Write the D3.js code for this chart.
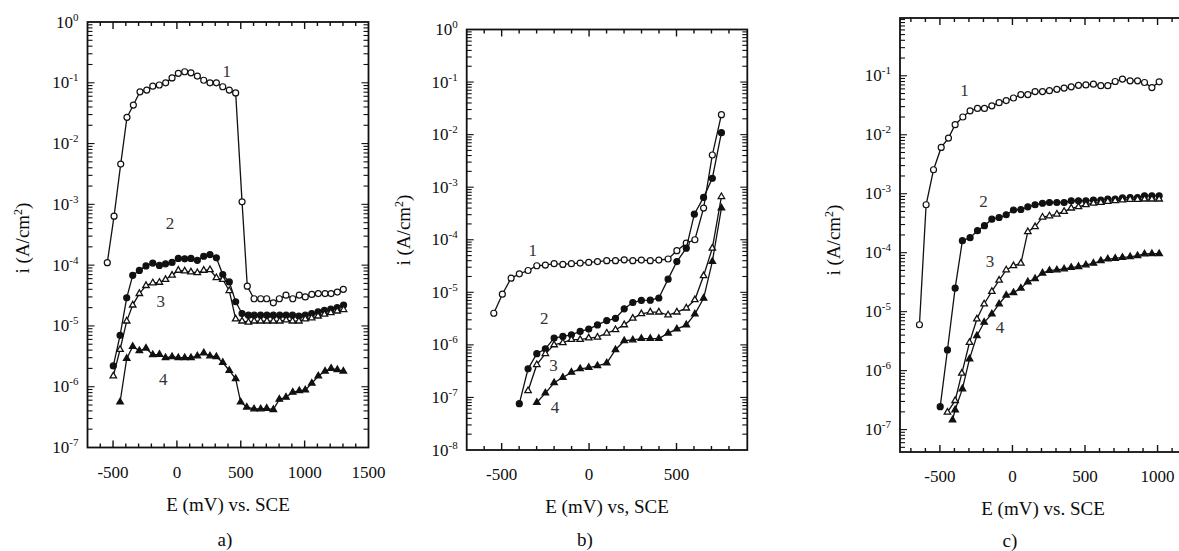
<!DOCTYPE html>
<html>
<head>
<meta charset="utf-8">
<script src="https://cdn.jsdelivr.net/npm/d3@7"></script>
<style>
  body { margin: 0; background: #fff; }
  svg text { font-family: "Liberation Serif", "Times New Roman", serif; fill: #0d0d0d; }
</style>
</head>
<body>
<div id="chart"></div>
<script>
// ---- data (E in mV vs SCE, i in A/cm2) ----

// panel a)
var aE1 = [-545,-492,-440,-391,-341,-289,-236,-189,-138,-88,-38,11,61,110,160,210,259,309,359,410,460,510,551,604,656,703,755,802,854,907,958,1005,1056,1107,1160,1207,1256,1303];
var aI1 = [1.1e-4,6.4e-4,4.6e-3,2.7e-2,4.3e-2,7.1e-2,7.6e-2,8.8e-2,9.2e-2,1.0e-1,1.2e-1,1.43e-1,1.52e-1,1.46e-1,1.29e-1,1.1e-1,1.0e-1,1.0e-1,8.6e-2,7.6e-2,6.8e-2,1.1e-3,4.5e-5,2.8e-5,2.8e-5,2.8e-5,2.4e-5,2.8e-5,3.2e-5,2.8e-5,3.2e-5,3.0e-5,3.3e-5,3.4e-5,3.4e-5,3.4e-5,3.6e-5,4.0e-5];
var aE23 = [-498,-445,-393,-346,-294,-242,-189,-137,-89,-38,11,61,110,160,210,259,309,359,410,460,510,560,605,655,705,755,805,855,905,955,1005,1055,1105,1155,1205,1255,1305];
var aI2 = [2.2e-6,7.0e-6,2.9e-5,6.8e-5,8.2e-5,9.7e-5,1.08e-4,9.9e-5,1.05e-4,1.11e-4,1.29e-4,1.27e-4,1.29e-4,1.2e-4,1.4e-4,1.49e-4,1.32e-4,7.0e-5,5.3e-5,2.5e-5,1.6e-5,1.5e-5,1.5e-5,1.5e-5,1.5e-5,1.5e-5,1.5e-5,1.5e-5,1.5e-5,1.45e-5,1.5e-5,1.6e-5,1.7e-5,1.8e-5,1.9e-5,2.0e-5,2.2e-5];
var aI3 = [1.5e-6,4.1e-6,1.2e-5,2.2e-5,3.4e-5,4.6e-5,5.1e-5,5.2e-5,5.8e-5,6.8e-5,8.2e-5,8.0e-5,7.7e-5,7.5e-5,8.2e-5,8.4e-5,6.2e-5,5.8e-5,3.8e-5,1.3e-5,1.2e-5,1.15e-5,1.2e-5,1.2e-5,1.2e-5,1.2e-5,1.2e-5,1.25e-5,1.2e-5,1.2e-5,1.3e-5,1.35e-5,1.45e-5,1.55e-5,1.65e-5,1.75e-5,1.85e-5];
var aE4 = [-445,-393,-346,-294,-242,-189,-137,-89,-38,11,61,110,160,210,259,309,359,410,460,499,547,604,656,703,755,802,854,907,958,1005,1056,1107,1160,1207,1256,1303];
var aI4 = [5.6e-7,2.9e-6,4.6e-6,3.9e-6,4.3e-6,3.35e-6,3.4e-6,3.0e-6,3.1e-6,3.0e-6,3.0e-6,3.0e-6,3.2e-6,3.6e-6,3.2e-6,3.1e-6,2.5e-6,1.85e-6,1.35e-6,5.6e-7,4.6e-7,4.3e-7,4.3e-7,4.4e-7,4.2e-7,6.2e-7,6.7e-7,8.1e-7,8.6e-7,8.8e-7,1.14e-6,1.5e-6,1.8e-6,2.0e-6,1.9e-6,1.8e-6];

// panel b)
var bE1 = [-545,-496,-446,-399,-349,-299,-250,-200,-150,-101,-51,-2,48,101,151,201,250,299,350,399,452,502,556,605,655,705,757];
var bI1 = [4.0e-6,9.2e-6,1.86e-5,2.25e-5,2.6e-5,3.2e-5,3.3e-5,3.5e-5,3.4e-5,3.5e-5,3.6e-5,3.7e-5,3.85e-5,4.0e-5,4.0e-5,4.15e-5,4.0e-5,4.1e-5,4.0e-5,4.1e-5,4.3e-5,6.2e-5,8.6e-5,1.0e-4,4.0e-4,4.1e-3,2.4e-2];
var bE2 = [-399,-349,-299,-250,-200,-150,-101,-51,-2,48,101,151,201,250,299,350,399,452,502,556,602,655,705,757];
var bI2 = [7.6e-8,3.5e-7,6.8e-7,8.4e-7,1.35e-6,1.45e-6,1.55e-6,1.8e-6,2.0e-6,2.4e-6,2.9e-6,3.2e-6,4.85e-6,6.4e-6,7.0e-6,7.1e-6,7.8e-6,1.78e-5,3.85e-5,6.9e-5,3.07e-4,6.4e-4,1.48e-3,1.09e-2];
var bE3 = [-349,-299,-250,-200,-150,-101,-51,-2,48,101,151,201,250,299,350,399,452,502,556,605,655,705,757];
var bI3 = [1.34e-7,4.2e-7,6.8e-7,1.0e-6,1.1e-6,1.26e-6,1.26e-6,1.35e-6,1.4e-6,1.67e-6,1.94e-6,2.4e-6,3.2e-6,3.9e-6,4.2e-6,4.2e-6,3.7e-6,4.2e-6,5.0e-6,7.2e-6,2.06e-5,6.9e-5,6.6e-4];
var bE4 = [-299,-250,-200,-150,-101,-51,-2,48,101,151,201,250,299,350,399,452,502,556,605,655,705,757];
var bI4 = [8.0e-8,1.21e-7,1.9e-7,2.4e-7,3.0e-7,3.5e-7,3.7e-7,4.0e-7,4.5e-7,8.1e-7,1.2e-6,1.24e-6,1.32e-6,1.32e-6,1.32e-6,1.67e-6,2.0e-6,2.4e-6,3.85e-6,7.7e-6,3.85e-5,4.0e-4];

// panel c)
var cE1 = [-641,-595,-544,-491,-441,-395,-342,-292,-241,-193,-142,-92,-43,7,58,106,156,207,255,306,356,405,455,506,558,609,657,708,758,811,862,910,961,1011];
var cI1 = [6.0e-6,6.5e-4,2.55e-3,6.1e-3,8.8e-3,1.48e-2,2.0e-2,2.55e-2,2.8e-2,2.8e-2,3.1e-2,3.5e-2,3.8e-2,4.2e-2,4.8e-2,4.8e-2,5.4e-2,5.4e-2,5.6e-2,5.9e-2,6.2e-2,6.5e-2,6.9e-2,7.0e-2,7.2e-2,6.8e-2,6.8e-2,8.0e-2,8.8e-2,8.2e-2,8.2e-2,7.7e-2,6.3e-2,7.9e-2];
var cE2 = [-498,-448,-395,-345,-292,-241,-193,-142,-92,-43,7,58,106,156,207,255,306,356,405,455,506,558,609,657,708,758,811,862,910,961,1011];
var cI2 = [2.45e-7,2.24e-6,2.5e-5,1.6e-4,1.8e-4,2.36e-4,2.87e-4,3.7e-4,3.95e-4,4.4e-4,5.3e-4,5.4e-4,6.0e-4,6.5e-4,6.9e-4,7.1e-4,7.1e-4,7.1e-4,7.6e-4,7.6e-4,7.6e-4,7.8e-4,7.8e-4,8.1e-4,8.1e-4,8.5e-4,8.6e-4,8.6e-4,9.2e-4,9.2e-4,9.2e-4];
var cE3 = [-448,-395,-349,-296,-245,-195,-142,-92,-43,7,58,106,156,207,255,306,356,405,455,506,558,609,657,708,758,811,862,910,961,1011];
var cI3 = [1.97e-7,3.1e-7,9.0e-7,3.0e-6,7.5e-6,1.35e-5,2.2e-5,3.4e-5,5.1e-5,6.0e-5,6.6e-5,2.27e-4,2.75e-4,4.0e-4,4.2e-4,4.5e-4,5.0e-4,5.7e-4,6.0e-4,6.5e-4,6.9e-4,7.1e-4,7.4e-4,7.6e-4,7.8e-4,8.0e-4,8.0e-4,8.1e-4,8.1e-4,8.1e-4];
var cE4 = [-413,-395,-345,-296,-245,-195,-142,-92,-43,7,58,106,156,207,255,306,356,405,455,506,558,609,657,708,758,811,862,910,961,1011];
var cI4 = [1.46e-7,2.16e-7,4.9e-7,1.58e-6,3.9e-6,6.6e-6,9.1e-6,1.35e-5,1.9e-5,2.1e-5,2.5e-5,3.2e-5,3.6e-5,4.5e-5,5.0e-5,5.1e-5,5.3e-5,5.6e-5,5.8e-5,6.2e-5,6.6e-5,7.3e-5,7.8e-5,8.0e-5,8.3e-5,8.5e-5,8.9e-5,9.5e-5,9.6e-5,9.6e-5];

// tick labels
var aTickX = [-500, 0, 500, 1000, 1500];
var bTickX = [-500, 0, 500];
var cTickX = [-500, 0, 500, 1000];
var aTickExp = [0, -1, -2, -3, -4, -5, -6, -7];
var bTickExp = [0, -1, -2, -3, -4, -5, -6, -7, -8];
var cTickExp = [-1, -2, -3, -4, -5, -6, -7];

// curve number labels, placed in data coordinates [E, i]
var curveNames = ["1", "2", "3", "4"];
var aCurveAt = [[390, 1.55e-1], [-54, 5.0e-4], [-127, 2.6e-5], [-106, 1.35e-6]];
var bCurveAt = [[-322, 6.4e-5], [-256, 3.2e-6], [-204, 4.1e-7], [-195, 6.7e-8]];
var cCurveAt = [[-331, 5.7e-2], [-200, 7.6e-4], [-154, 7.3e-5], [-85, 5.4e-6]];

// ---- layout ----
var svgWidth = 1179;
var svgHeight = 551;

var svg = d3.select("#chart")
  .append("svg")
  .attr("width", svgWidth)
  .attr("height", svgHeight);

// marker style per curve number
var markers = [
  { shape: "circle", fill: "#fff" },
  { shape: "circle", fill: "#111" },
  { shape: "triangle", fill: "#fff" },
  { shape: "triangle", fill: "#111" }
];

var panels = [
  {
    name: "a)", left: 87.5, top: 22, right: 368.5, bottom: 447.5,
    xDomain: [-700, 1500], yDomain: [1e-7, 1],
    xTicks: aTickX, yExps: aTickExp,
    xTitle: "E (mV) vs. SCE", yTitleY: 238, yTitleX: 22, nameX: 225, nameY: 546,
    series: [[aE1, aI1], [aE23, aI2], [aE23, aI3], [aE4, aI4]],
    curveAt: aCurveAt
  },
  {
    name: "b)", left: 466.7, top: 29.5, right: 747.3, bottom: 450,
    xDomain: [-700, 905], yDomain: [1e-8, 1],
    xTicks: bTickX, yExps: bTickExp,
    xTitle: "E (mV) vs, SCE", yTitleY: 230, yTitleX: 403, nameX: 585, nameY: 546,
    series: [[bE1, bI1], [bE2, bI2], [bE3, bI3], [bE4, bI4]],
    curveAt: bCurveAt
  },
  {
    name: "c)", left: 900, top: 18, right: 1186, bottom: 452,
    xDomain: [-775, 1196], yDomain: [Math.pow(10, -7.38), Math.pow(10, -0.02)],
    xTicks: cTickX, yExps: cTickExp,
    xTitle: "E (mV) vs. SCE", yTitleY: 240, yTitleX: 833, nameX: 1010, nameY: 547,
    series: [[cE1, cI1], [cE2, cI2], [cE3, cI3], [cE4, cI4]],
    curveAt: cCurveAt
  }
];

panels.forEach(function(p) {
  var g = svg.append("g");

  var x = d3.scaleLinear().domain(p.xDomain).range([p.left, p.right]);
  var y = d3.scaleLog().domain(p.yDomain).range([p.bottom, p.top]);

  // x ticks every 100 mV, longer every 500 mV, inward on top and bottom
  var xt = d3.range(Math.ceil(p.xDomain[0] / 100) * 100, p.xDomain[1], 100)
    .filter(function(v) { return x(v) > p.left + 2 && x(v) < p.right - 2; });
  xt.forEach(function(v) {
    var len = (v % 500 === 0) ? 7 : 4;
    g.append("line").attr("x1", x(v)).attr("x2", x(v))
      .attr("y1", p.bottom).attr("y2", p.bottom - len)
      .attr("stroke", "#111").attr("stroke-width", 1.4);
    g.append("line").attr("x1", x(v)).attr("x2", x(v))
      .attr("y1", p.top).attr("y2", p.top + len)
      .attr("stroke", "#111").attr("stroke-width", 1.4);
  });

  // y log ticks, inward on left and right
  var lo = Math.floor(Math.log10(p.yDomain[0]));
  var hi = Math.ceil(Math.log10(p.yDomain[1]));
  for (var d = lo; d <= hi; d++) {
    for (var k = 1; k <= 9; k++) {
      var v = k * Math.pow(10, d);
      if (v < p.yDomain[0] * 1.0001 || v > p.yDomain[1] * 0.9999) continue;
      var len = (k === 1) ? 7 : 5;
      g.append("line").attr("x1", p.left).attr("x2", p.left + len)
        .attr("y1", y(v)).attr("y2", y(v))
        .attr("stroke", "#111").attr("stroke-width", 1.1);
      g.append("line").attr("x1", p.right).attr("x2", p.right - len)
        .attr("y1", y(v)).attr("y2", y(v))
        .attr("stroke", "#111").attr("stroke-width", 1.1);
    }
  }

  // frame
  g.append("rect")
    .attr("x", p.left).attr("y", p.top)
    .attr("width", p.right - p.left).attr("height", p.bottom - p.top)
    .attr("fill", "none").attr("stroke", "#111").attr("stroke-width", 1.8);

  // x tick labels
  p.xTicks.forEach(function(v) {
    g.append("text")
      .attr("x", x(v)).attr("y", p.bottom + 30)
      .attr("text-anchor", "middle")
      .style("font-size", "17px")
      .text(v);
  });

  // y tick labels 10^n
  p.yExps.forEach(function(e) {
    var t = g.append("text")
      .attr("x", p.left - 9).attr("y", y(Math.pow(10, e)) + 5.5)
      .attr("text-anchor", "end")
      .style("font-size", "17px");
    t.append("tspan").text("10");
    t.append("tspan").attr("dy", -7).style("font-size", "11px").text(e);
  });

  // axis titles
  g.append("text")
    .attr("x", (p.left + p.right) / 2).attr("y", p.bottom + 63)
    .attr("text-anchor", "middle")
    .style("font-size", "19px")
    .text(p.xTitle);

  var yt = g.append("text")
    .attr("transform", "translate(" + p.yTitleX + "," + p.yTitleY + ") rotate(-90)")
    .attr("text-anchor", "middle")
    .attr("dy", "0.35em")
    .style("font-size", "19px");
  yt.append("tspan").text("i (A/cm");
  yt.append("tspan").attr("dy", -7).style("font-size", "12px").text("2");
  yt.append("tspan").attr("dy", 7).text(")");

  // panel name
  g.append("text")
    .attr("x", p.nameX).attr("y", p.nameY)
    .attr("text-anchor", "middle")
    .style("font-size", "19px")
    .text(p.name);

  // curves
  var line = d3.line()
    .x(function(d) { return x(d[0]); })
    .y(function(d) { return y(d[1]); });

  p.series.forEach(function(s, si) {
    var pts = s[0].map(function(e, i) { return [e, s[1][i]]; });
    g.append("path")
      .datum(pts)
      .attr("d", line)
      .attr("fill", "none")
      .attr("stroke", "#111")
      .attr("stroke-width", 1.3);

    var m = markers[si];
    if (m.shape === "circle") {
      g.selectAll(null).data(pts).enter().append("circle")
        .attr("cx", function(d) { return x(d[0]); })
        .attr("cy", function(d) { return y(d[1]); })
        .attr("r", 3)
        .attr("fill", m.fill)
        .attr("stroke", "#111")
        .attr("stroke-width", 1.2);
    } else {
      g.selectAll(null).data(pts).enter().append("path")
        .attr("d", d3.symbol().type(d3.symbolTriangle).size(18))
        .attr("transform", function(d) { return "translate(" + x(d[0]) + "," + y(d[1]) + ")"; })
        .attr("fill", m.fill)
        .attr("stroke", "#111")
        .attr("stroke-width", 1.3);
    }
  });

  // curve numbers
  p.curveAt.forEach(function(c, ci) {
    g.append("text")
      .attr("x", x(c[0])).attr("y", y(c[1]))
      .attr("dy", "0.35em")
      .attr("text-anchor", "middle")
      .style("font-size", "17px")
      .style("fill", "#333")
      .text(curveNames[ci]);
  });
});
</script>
</body>
</html>
